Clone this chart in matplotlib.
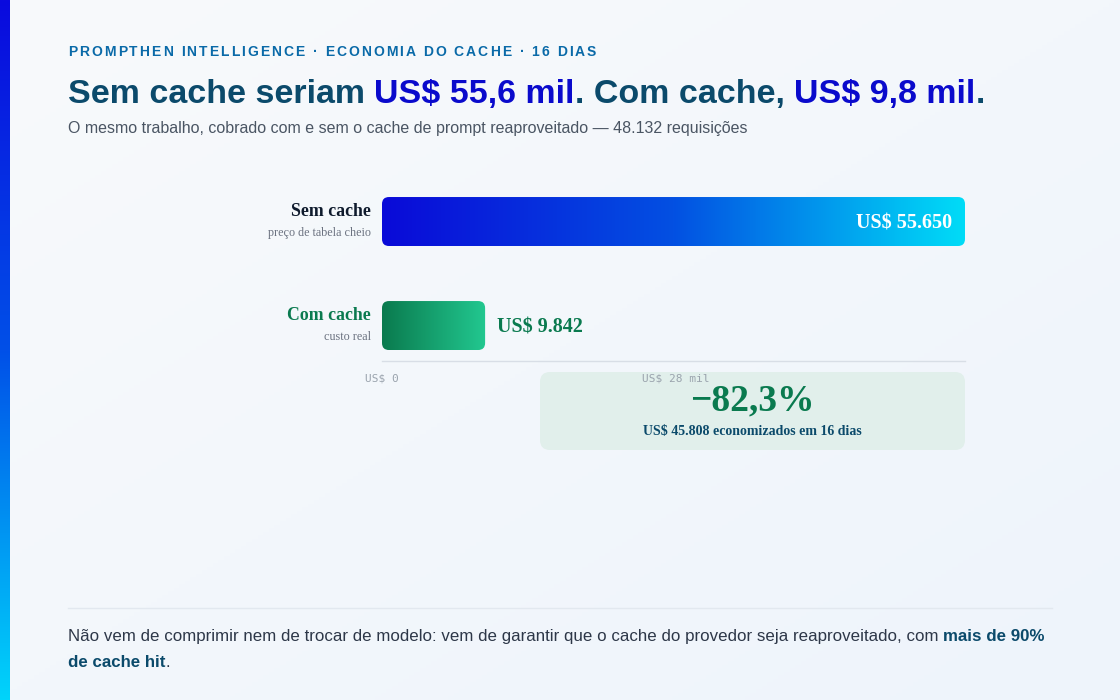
import numpy as np
import matplotlib
matplotlib.use("Agg")
import matplotlib.pyplot as plt
from matplotlib.colors import LinearSegmentedColormap
from matplotlib.patches import FancyBboxPatch
from matplotlib.transforms import IdentityTransform
from matplotlib.font_manager import FontProperties, findfont
from matplotlib.ft2font import FT2Font

# dados
categorias = ["Sem cache", "Com cache"]
subrotulos = ["preço de tabela cheio", "custo real"]
custos = [55650, 9842]
rotulos_valor = ["US$ 55.650", "US$ 9.842"]
ticks = [0, 28000]
tick_labels = ["US$ 0", "US$ 28 mil"]
reducao = "−82,3%"
economia = "US$ 45.808 economizados em 16 dias"

W, H = 1120, 700
fig = plt.figure(figsize=(11.2, 7), dpi=100)

SANS = "Liberation Sans"
SERIF = "Liberation Serif"
TEAL = "#0b4a6b"
BLUE = "#0a0acc"
GREEN = "#0a7a4f"

# fundo (coordenadas em pixels)
bg = fig.add_axes([0, 0, 1, 1])
bg.set_xlim(0, W)
bg.set_ylim(H, 0)
bg.axis("off")
gx, gy = np.meshgrid(np.linspace(0, 1, 200), np.linspace(0, 1, 200))
bg_cmap = LinearSegmentedColormap.from_list("bg", ["#f8fafc", "#eef4fb"])
bg.imshow(0.5 * gx + 0.5 * gy, cmap=bg_cmap, extent=[0, W, H, 0], aspect="auto", zorder=0)
strip_cmap = LinearSegmentedColormap.from_list("strip", ["#0a0ade", "#0150e8", "#00d4fb"])
bg.imshow(np.linspace(0, 1, 256).reshape(-1, 1), cmap=strip_cmap,
          extent=[0, 10, H, 0], aspect="auto", zorder=1)

fig.canvas.draw()
renderer = fig.canvas.get_renderer()


def text_w(s, prop):
    w, _, _ = renderer.get_text_width_height_descent(s + "|", prop, ismath=False)
    w2, _, _ = renderer.get_text_width_height_descent("|", prop, ismath=False)
    return w - w2


def run_text(x, y, parts, size, family=SANS):
    # partes: (texto, cor, peso)
    for s, color, weight in parts:
        prop = FontProperties(family=family, size=size, weight=weight)
        bg.text(x, y, s, fontproperties=prop, color=color, va="baseline", ha="left", zorder=5)
        x += text_w(s, prop)


# kicker com espaçamento entre letras (avanço de cada glifo)
kicker = "PROMPTHEN INTELLIGENCE · ECONOMIA DO CACHE · 16 DIAS"
kprop = FontProperties(family=SANS, size=10, weight="bold")
ft = FT2Font(findfont(kprop))
ft.set_size(10, 100)
advs = [ft.load_char(ord(c)).linearHoriAdvance / 65536 for c in kicker]
sp = (528 - sum(advs)) / (len(kicker) - 1)
x = 68
for ch, a in zip(kicker, advs):
    if ch != " ":
        dx = 1.2 if ch == "·" else 0
        bg.text(x + a / 2 + dx, 56, ch, fontproperties=kprop, color="#0a6aa8",
                va="baseline", ha="center", zorder=5)
    x += a + sp

run_text(68, 103, [("Sem cache seriam ", TEAL, "bold"), ("US$ 55,6 mil", BLUE, "bold"),
                   (". Com cache, ", TEAL, "bold"), ("US$ 9,8 mil", BLUE, "bold"),
                   (".", TEAL, "bold")], 24.5)
bg.text(68, 133, "O mesmo trabalho, cobrado com e sem o cache de prompt reaproveitado — 48.132 requisições",
        family=SANS, fontsize=11.5, color="#4a5563", va="baseline", zorder=5)

# gráfico de barras
ax = fig.add_axes([382 / W, 1 - 361 / H, 583 / W, 171 / H])
ax.patch.set_alpha(0)
ypos = np.arange(len(categorias))
ax.set_xlim(0, max(custos))
ax.set_ylim(1.341, -0.303)
bars = ax.barh(ypos, custos, height=0.471, color="none")
for s in ["top", "right", "left"]:
    ax.spines[s].set_visible(False)
ax.spines["bottom"].set_color("#d8dee6")
ax.spines["bottom"].set_linewidth(1)
ax.set_yticks([])
ax.set_xticks(ticks)
ax.set_xticklabels(tick_labels, family="DejaVu Sans Mono", fontsize=8, color="#9aa3ad")
ax.tick_params(axis="x", length=0, pad=9)
for lab in ax.get_xticklabels():
    lab.set_zorder(10)

grads = [["#0a0ad8", "#0350e2", "#00dcf7"], ["#0a7a4e", "#22c890"]]
for bar, cols in zip(bars, grads):
    bb = bar.get_window_extent()
    clip = FancyBboxPatch((bb.x0, bb.y0), bb.width, bb.height,
                          boxstyle="round,pad=0,rounding_size=7",
                          transform=IdentityTransform(), facecolor="none", edgecolor="none")
    ax.add_patch(clip)
    x0, y0 = bar.get_x(), bar.get_y()
    cm = LinearSegmentedColormap.from_list("g", cols)
    im = ax.imshow(np.linspace(0, 1, 256).reshape(1, -1), cmap=cm, aspect="auto",
                   extent=[x0, x0 + bar.get_width(), y0 + bar.get_height(), y0], zorder=3)
    im.set_clip_path(clip)
ax.set_xlim(0, max(custos))
ax.set_ylim(1.341, -0.303)

# rótulos das categorias
cores_cat = ["#0f1b2d", GREEN]
for i, (cat, sub) in enumerate(zip(categorias, subrotulos)):
    ax.annotate(cat, (0, ypos[i]), xytext=(-11, 6), textcoords="offset pixels",
                ha="right", va="baseline", family=SERIF, weight="bold", fontsize=12.8, color=cores_cat[i])
    ax.annotate(sub, (0, ypos[i]), xytext=(-11, -14), textcoords="offset pixels",
                ha="right", va="baseline", family=SERIF, fontsize=8.7, color="#6b7280")

# valores
ax.annotate(rotulos_valor[0], (custos[0], ypos[0]), xytext=(-13, -7), textcoords="offset pixels",
            ha="right", va="baseline", family=SERIF, weight="bold", fontsize=14.5, color="white", zorder=6)
ax.annotate(rotulos_valor[1], (custos[1], ypos[1]), xytext=(12, -7), textcoords="offset pixels",
            ha="left", va="baseline", family=SERIF, weight="bold", fontsize=14.5, color=GREEN, zorder=6)

# caixa de economia
bg.add_patch(FancyBboxPatch((540, 372), 425, 78, boxstyle="round,pad=0,rounding_size=10",
                            facecolor="#e1efeb", edgecolor="none", zorder=2))
bg.text(752, 410, reducao, family=SERIF, weight="bold", fontsize=27, color=GREEN,
        ha="center", va="baseline", zorder=5)
bg.text(752, 435, economia, family=SERIF, weight="bold", fontsize=10, color=TEAL,
        ha="center", va="baseline", zorder=5)

# rodapé
bg.plot([68, 1052], [608, 608], color="#e2e8ef", lw=1, zorder=2)
run_text(68, 641, [("Não vem de comprimir nem de trocar de modelo: vem de garantir que o cache do provedor seja reaproveitado, com ", "#2d3748", "normal"),
                   ("mais de 90%", TEAL, "bold")], 12.2)
run_text(68, 667, [("de cache hit", TEAL, "bold"), (".", "#2d3748", "normal")], 12.2)

fig.savefig("out.png", dpi=100)
